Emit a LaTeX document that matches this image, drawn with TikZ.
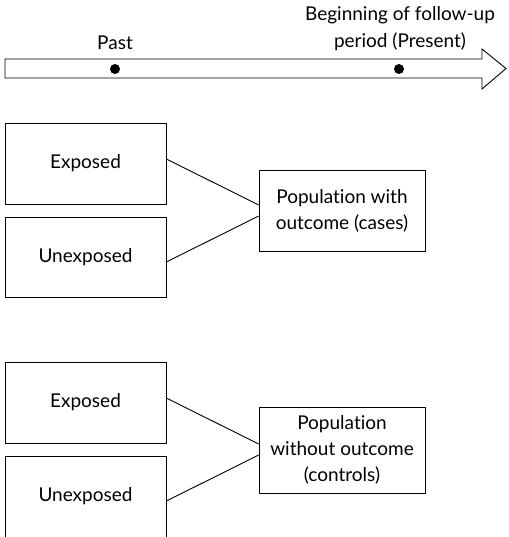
\documentclass[tikz,border=0pt]{standalone}
\usepackage{fontspec}
\setmainfont[Ligatures=NoCommon]{Lato}
\begin{document}
\begin{tikzpicture}[x=1pt,y=-1pt,
  line width=0.9pt,
  box/.style={draw, inner sep=0pt, align=center, font=\fontsize{19}{26}\selectfont},
  lbl/.style={inner sep=0pt, align=center, font=\fontsize{19}{27}\selectfont},
  dot/.style={circle, fill, inner sep=0pt, minimum size=10pt}]
\useasboundingbox (0,0) rectangle (508,537);
% timeline arrow
\draw (5,59) -- (482,59) -- (482,49) -- (506,68.5) -- (482,89) -- (482,78) -- (5,78) -- cycle;
\node[dot] (past) at (115,69) {};
\node[dot] (present) at (399,69) {};
\node[lbl] (pastlbl) at (115,43) {Past};
\node[lbl] (presentlbl) at (400,29) {Beginning of follow-up\\period (Present)};
% cases
\node[box, minimum width=161pt, minimum height=81pt] (E1) at (85.5,163.5) {Exposed};
\node[box, minimum width=161pt, minimum height=80pt] (U1) at (85.5,257) {Unexposed};
\node[box, minimum width=166pt, minimum height=81pt] (P1) at (342,210.5) {Population with\\outcome (cases)};
\draw ([yshift=4.5pt]E1.east) -- ([yshift=5.5pt]P1.west);
\draw ([yshift=-5pt]U1.east) -- ([yshift=-5.5pt]P1.west);
% controls
\node[box, minimum width=161pt, minimum height=81pt] (E2) at (85.5,402.5) {Exposed};
\node[box, minimum width=161pt, minimum height=81pt] (U2) at (85.5,496.5) {Unexposed};
\node[box, minimum width=166pt, minimum height=86pt] (P2) at (342,450) {Population\\without outcome\\(controls)};
\draw ([yshift=4.5pt]E2.east) -- ([yshift=6pt]P2.west);
\draw ([yshift=-4.5pt]U2.east) -- ([yshift=-5pt]P2.west);
\end{tikzpicture}
\end{document}
